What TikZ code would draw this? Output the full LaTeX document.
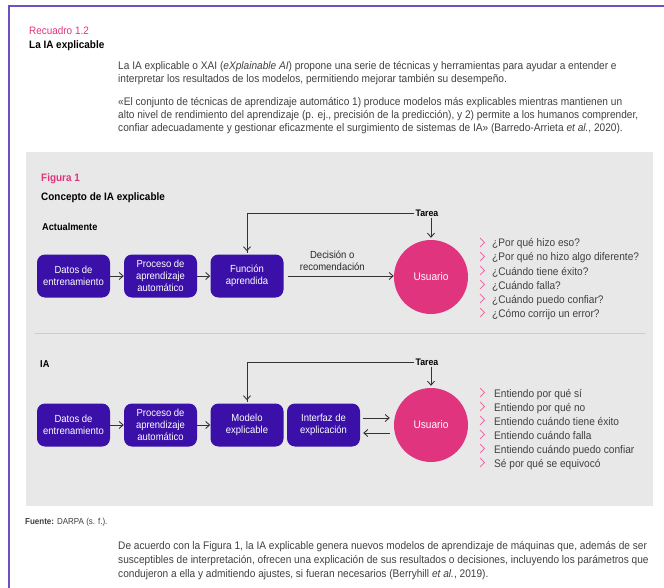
\documentclass[tikz,border=0pt]{standalone}
\usepackage{fontspec}
\setmainfont{Liberation Sans}[FakeStretch=0.92]
\usetikzlibrary{arrows.meta,calc}
\definecolor{frameviolet}{HTML}{7050C0}
\definecolor{boxviolet}{HTML}{3A10A8}
\definecolor{pinkc}{HTML}{E0357E}
\definecolor{panelgray}{HTML}{E8E8E9}
\definecolor{bodytext}{HTML}{404040}
\tikzset{
  bodyline/.style={anchor=base west, inner sep=0pt, text=bodytext, font=\fontsize{11}{13}\selectfont},
  stepbox/.style={draw=none, fill=boxviolet, rounded corners=8pt, minimum width=73pt, minimum height=43pt,
    text=white, align=center, inner sep=0pt, font=\fontsize{10.3}{12}\selectfont},
  userc/.style={circle, fill=pinkc, minimum size=74pt, inner sep=0pt, text=white, font=\fontsize{11}{13}\selectfont},
  arr/.style={-{Straight Barb[length=4pt,width=7pt]}, line width=0.9pt, draw=black!80},
  plainln/.style={line width=0.9pt, draw=black!80},
  listtxt/.style={anchor=base west, inner sep=0pt, text=bodytext, font=\fontsize{11}{13}\selectfont},
  chev/.style={draw=pinkc!70, line width=0.8pt},
  headb/.style={anchor=base west, inner sep=0pt, font=\bfseries\fontsize{10.8}{12}\selectfont},
  pinkhead/.style={anchor=base west, inner sep=0pt, text=pinkc, font=\fontsize{10.8}{12}\selectfont},
  tarea/.style={inner sep=1pt, font=\bfseries\fontsize{9.5}{11}\selectfont},
}
\begin{document}
\begin{tikzpicture}[x=1pt,y=-1pt]
\useasboundingbox (0,0) rectangle (664,588);
\fill[white] (0,0) rectangle (664,588);
% frame
\draw[frameviolet, line width=2pt] (9,589) -- (9,6) -- (665,6);
% header
\node[pinkhead] (rec) at (29,35) {Recuadro 1.2};
\node[headb] (tit) at (29,49) {La IA explicable};
\node[bodyline] (p1a) at (118,70) {La IA explicable o XAI (\textit{eXplainable AI}) propone una serie de técnicas y herramientas para ayudar a entender e};
\node[bodyline] (p1b) at (118,83) {interpretar los resultados de los modelos, permitiendo mejorar también su desempeño.};
\node[bodyline] (p2a) at (118,106) {«El conjunto de técnicas de aprendizaje automático 1) produce modelos más explicables mientras mantienen un};
\node[bodyline] (p2b) at (118,119) {alto nivel de rendimiento del aprendizaje (p. ej., precisión de la predicción), y 2) permite a los humanos comprender,};
\node[bodyline] (p2c) at (118,132) {confiar adecuadamente y gestionar eficazmente el surgimiento de sistemas de IA» (Barredo-Arrieta \textit{et al.}, 2020).};
% panel
\fill[panelgray] (26,152) rectangle (653,506);
\draw[black!20, line width=0.6pt] (35,333) -- (645,333);
\node[pinkhead, font=\bfseries\fontsize{10.8}{12}\selectfont] (fig) at (41,182) {Figura 1};
\node[headb] (con) at (41,201) {Concepto de IA explicable};
\node[headb, font=\bfseries\fontsize{10}{12}\selectfont] (act) at (42,231) {Actualmente};
\node[headb, font=\bfseries\fontsize{10}{12}\selectfont] (ia) at (40,367) {IA};
% row 1
\node[stepbox] (a1) at (73.5,276) {Datos de\\entrenamiento};
\node[stepbox] (a2) at (160.5,276) {Proceso de\\aprendizaje\\automático};
\node[stepbox] (a3) at (247,276) {Función\\aprendida};
\node[userc] (u1) at (431,277) {Usuario};
\node[tarea] (t1) at (427,213) {Tarea};
\draw[arr] (a1) -- (a2);
\draw[arr] (a2) -- (a3);
\draw[arr] (a3.east) ++(4,0) coordinate (d0) -- (d0 -| u1.west) node[pos=0.42, above=2pt, align=center, text=black!85, font=\fontsize{10.3}{11.5}\selectfont] (dec) {Decisión o\\recomendación};
\draw[plainln] (t1.west) -| coordinate[pos=0.5] (k1) ($(a3.north)+(0,-1)$);
\draw[arr] (k1) -- ($(a3.north)+(0,-3)$);
\draw[arr] (t1.south -| u1.north) -- ($(u1.north)+(0,-2)$);
% questions
\foreach \y/\t [count=\i] in {247/{¿Por qué hizo eso?},261/{¿Por qué no hizo algo diferente?},275/{¿Cuándo tiene éxito?},289/{¿Cuándo falla?},303/{¿Cuándo puedo confiar?},317/{¿Cómo corrijo un error?}}{
  \node[listtxt] (q\i) at (492,\y) {\t};
  \draw[chev] (480,\y-9) -- (484.5,\y-4.5) -- (480,\y);
}
% row 2
\node[stepbox] (b1) at (73.5,425) {Datos de\\entrenamiento};
\node[stepbox] (b2) at (160.5,425) {Proceso de\\aprendizaje\\automático};
\node[stepbox] (b3) at (247,425) {Modelo\\explicable};
\node[stepbox] (b4) at (323.5,425) {Interfaz de\\explicación};
\node[userc] (u2) at (431,425) {Usuario};
\node[tarea] (t2) at (427,362) {Tarea};
\draw[arr] (b1) -- (b2);
\draw[arr] (b2) -- (b3);
\draw[plainln] (t2.west) -| coordinate[pos=0.5] (k2) ($(b3.north)+(0,-1)$);
\draw[arr] (k2) -- ($(b3.north)+(0,-3)$);
\draw[arr] (t2.south -| u2.north) -- ($(u2.north)+(0,-2)$);
\draw[arr] ($(b4.east)+(3,-7)$) -- ($(u2.west)+(-4,-7)$);
\draw[arr] ($(u2.west)+(-4,8)$) -- ($(b4.east)+(3,8)$);
% answers
\foreach \y/\t [count=\i] in {397/{Entiendo por qué sí},411/{Entiendo por qué no},425/{Entiendo cuándo tiene éxito},439/{Entiendo cuándo falla},453/{Entiendo cuándo puedo confiar},467/{Sé por qué se equivocó}}{
  \node[listtxt] (r\i) at (494,\y) {\t};
  \draw[chev] (480,\y-9) -- (484.5,\y-4.5) -- (480,\y);
}
% footer
\node[anchor=base west, inner sep=0pt, text=bodytext, font=\fontsize{8.7}{10}\selectfont] (src) at (25,524) {\textbf{Fuente:} DARPA (s. f.).};
\node[bodyline] (f1) at (118,549) {De acuerdo con la Figura 1, la IA explicable genera nuevos modelos de aprendizaje de máquinas que, además de ser};
\node[bodyline] (f2) at (118,563) {susceptibles de interpretación, ofrecen una explicación de sus resultados o decisiones, incluyendo los parámetros que};
\node[bodyline] (f3) at (118,577) {condujeron a ella y admitiendo ajustes, si fueran necesarios (Berryhill \textit{et al.}, 2019).};
\end{tikzpicture}
\end{document}
